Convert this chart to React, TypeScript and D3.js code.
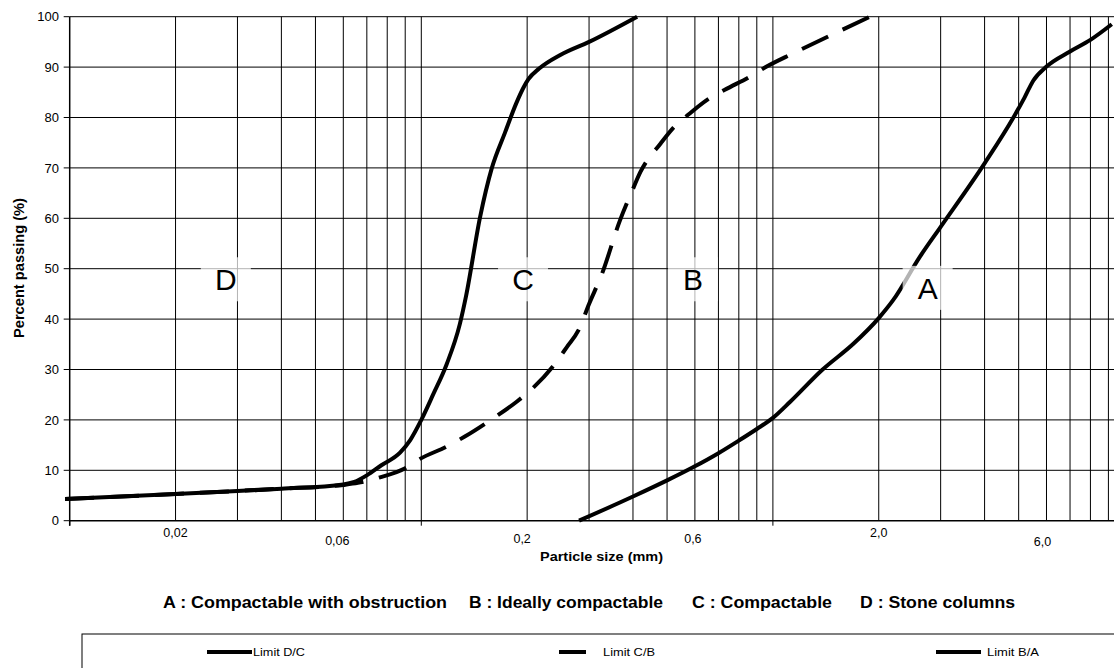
import React from "react";
import * as d3 from "d3";

// Grading envelope limits: [particle size (mm), percent passing (%)]
const limitDC: [number, number][] = [
  [0.0097, 4.3], [0.02, 5.3], [0.03, 5.9], [0.04, 6.35], [0.06, 7.2], [0.0645, 7.7],
  [0.07, 9.0], [0.077, 11.0], [0.087, 13.5], [0.093, 16.0], [0.1, 20.0], [0.108, 25.0],
  [0.118, 31.0], [0.1287, 39.0], [0.134, 44.5], [0.147, 60.3], [0.1586, 69.9], [0.173, 77.0],
  [0.1867, 83.0], [0.1955, 86.0], [0.2017, 87.6], [0.2164, 89.7], [0.2485, 92.4], [0.3, 95.0],
  [0.411, 100],
];

const limitCB: [number, number][] = [
  [0.0097, 4.3], [0.02, 5.3], [0.03, 5.9], [0.04, 6.35], [0.06, 7.1], [0.066, 7.5],
  [0.0763, 8.6], [0.09, 10.4], [0.0988, 12.2], [0.118, 14.7], [0.133, 16.7], [0.16, 20.3],
  [0.1867, 23.6], [0.206, 26.1], [0.2367, 30.6], [0.2597, 34.5], [0.28, 37.8], [0.3, 43.0],
  [0.327, 49.1], [0.366, 59.3], [0.397, 65.3], [0.42, 69.2], [0.48, 74.9], [0.52, 77.9],
  [0.58, 80.8], [0.65, 83.5], [0.73, 85.5], [0.86, 88.1], [0.96, 90.1], [1.14, 92.7],
  [1.5, 96.7], [1.89, 100],
];

const limitBA: [number, number][] = [
  [0.281, 0], [0.4, 4.8], [0.5, 8.0], [0.6, 10.8], [0.7, 13.4], [0.8, 15.9], [0.9, 18.2],
  [1.0, 20.4], [1.12, 23.6], [1.38, 29.9], [1.7, 35.2], [2.0, 40.2], [2.2, 43.8], [2.62, 52.4],
  [3.0, 58.3], [4.0, 70.9], [4.85, 80.2], [5.2, 84.0], [5.5, 87.3], [6.0, 90.1], [7.0, 93.1],
  [8.0, 95.4], [9.2, 98.5],
];

const sizeLabelValues = [0.02, 0.06, 0.2, 0.6, 2, 6];
const sizeLabelTexts = ["0,02", "0,06", "0,2", "0,6", "2,0", "6,0"];
const sizeMajorTicks = [0.01, 0.1, 1, 10];

const zoneNames = ["D", "C", "B", "A"];
const zoneSizes = [0.0278, 0.1947, 0.5927, 2.755];
const zonePercents = [47.9, 47.9, 47.9, 46.2];

const captionTexts = [
  "A : Compactable with obstruction",
  "B : Ideally compactable",
  "C : Compactable",
  "D : Stone columns",
];

const legendNames = ["Limit D/C", "Limit C/B", "Limit B/A"];

// layout
const W = 1114;
const H = 668;
const FONT = "'Liberation Sans', Arial, Helvetica, sans-serif";
const PLOT_LEFT = 69.7;
const DECADE = 351.6;
const Y0 = 520.7;
const Y100 = 16.7;
const LABEL_DX = [0, -6, -5, -2, 0, -4];
const LABEL_DY = [16.3, 24.3, 22.3, 22.3, 16.3, 25.3];
const CAPTION_X = [163, 469, 692, 860];
const CAPTION_W = [284, 194, 140, 155];
const LEGEND_SAMPLE_X = [207, 559, 936];
const LEGEND_TEXT_X = [253, 603, 987];
const DASH = "29,16";

export default function App() {
  const x = d3.scaleLog().domain([0.01, 10]).range([PLOT_LEFT, PLOT_LEFT + DECADE * 3]);
  const y = d3.scaleLinear().domain([0, 100]).range([Y0, Y100]);

  const line = d3
    .line<[number, number]>()
    .x((d) => x(d[0]))
    .y((d) => y(d[1]))
    .curve(d3.curveMonotoneX);

  const vGrid = x.ticks().filter((v) => v > 0.0100001);
  const hGrid = y.ticks(10).filter((v) => v > 0);
  const xEnd = x(10);

  return (
    <svg
      width={W}
      height={H}
      style={{ position: "absolute", left: 0, top: 0, background: "#fff" }}
      fontFamily={FONT}
    >
      <rect x={0} y={0} width={W} height={H} fill="#fff" />

      {/* grid */}
      {vGrid.map((v) => (
        <line key={"v" + v} x1={x(v)} x2={x(v)} y1={Y100} y2={Y0} stroke="#000" strokeWidth={1} />
      ))}
      {hGrid.map((v) => (
        <line key={"h" + v} x1={PLOT_LEFT} x2={xEnd} y1={y(v)} y2={y(v)} stroke="#000" strokeWidth={1} />
      ))}

      {/* axes */}
      <line x1={PLOT_LEFT} x2={PLOT_LEFT} y1={Y100} y2={Y0 + 5} stroke="#000" strokeWidth={1.5} />
      <line x1={PLOT_LEFT} x2={xEnd} y1={Y0} y2={Y0} stroke="#000" strokeWidth={1.5} />
      {y.ticks(10).map((v) => (
        <g key={"yt" + v}>
          <line x1={PLOT_LEFT - 6} x2={PLOT_LEFT} y1={y(v)} y2={y(v)} stroke="#000" strokeWidth={1} />
          <text x={59} y={y(v) + 4.6} fontSize={13} textAnchor="end" fill="#000">
            {v}
          </text>
        </g>
      ))}
      {sizeMajorTicks.map((v) => (
        <line key={"xt" + v} x1={x(v)} x2={x(v)} y1={Y0} y2={Y0 + 5} stroke="#000" strokeWidth={1} />
      ))}
      {sizeLabelValues.map((v, i) => (
        <text
          key={"xl" + v}
          x={x(v) + LABEL_DX[i]}
          y={Y0 + LABEL_DY[i]}
          fontSize={12.5}
          textAnchor="middle"
          fill="#000"
        >
          {sizeLabelTexts[i]}
        </text>
      ))}

      {/* axis titles */}
      <text x={540} y={561} fontSize={12.5} fontWeight="bold" textLength={123} lengthAdjust="spacingAndGlyphs">
        Particle size (mm)
      </text>
      <text
        transform="translate(23.5,268) rotate(-90)"
        fontSize={14}
        fontWeight="bold"
        textAnchor="middle"
        textLength={140}
        lengthAdjust="spacingAndGlyphs"
      >
        Percent passing (%)
      </text>

      {/* grading limits */}
      <path d={line(limitDC) ?? ""} fill="none" stroke="#000" strokeWidth={4} strokeLinejoin="round" />
      <path
        d={line(limitCB) ?? ""}
        fill="none"
        stroke="#000"
        strokeWidth={4}
        strokeDasharray={DASH}
        strokeLinejoin="round"
      />
      <path d={line(limitBA) ?? ""} fill="none" stroke="#000" strokeWidth={4} strokeLinejoin="round" />

      {/* zone labels */}
      {zoneNames.map((n, i) => {
        const cx = x(zoneSizes[i]);
        const cy = y(zonePercents[i]);
        return (
          <g key={"z" + n}>
            <rect x={cx - 25} y={cy - 22} width={50} height={44} fill="#fff" fillOpacity={0.7} />
            <text x={cx} y={cy + 11} fontSize={30} textAnchor="middle" fill="#000">
              {n}
            </text>
          </g>
        );
      })}

      {/* caption */}
      {captionTexts.map((t, i) => (
        <text
          key={"c" + i}
          x={CAPTION_X[i]}
          y={608}
          fontSize={16}
          fontWeight="bold"
          textLength={CAPTION_W[i]}
          lengthAdjust="spacingAndGlyphs"
        >
          {t}
        </text>
      ))}

      {/* legend */}
      <rect x={82} y={634} width={W} height={80} fill="#fff" stroke="#000" strokeWidth={1} />
      {legendNames.map((n, i) => (
        <g key={"lg" + i}>
          <line
            x1={LEGEND_SAMPLE_X[i]}
            x2={LEGEND_SAMPLE_X[i] + (i === 1 ? 27 : 45)}
            y1={652}
            y2={652}
            stroke="#000"
            strokeWidth={4}
          />
          <text x={LEGEND_TEXT_X[i]} y={656} fontSize={11.5} textLength={52} lengthAdjust="spacingAndGlyphs">
            {n}
          </text>
        </g>
      ))}
    </svg>
  );
}
